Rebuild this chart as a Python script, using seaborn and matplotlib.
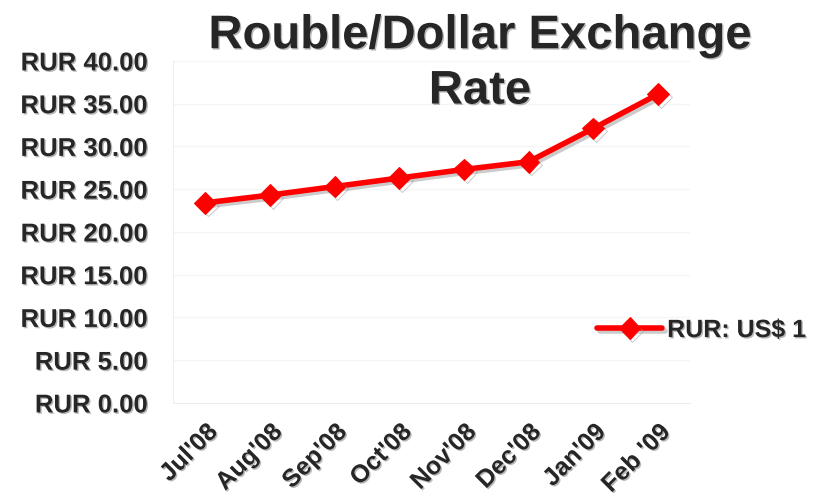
import pandas as pd
import seaborn as sns
import matplotlib.pyplot as plt
import matplotlib.patheffects as pe

# data
months = ["Jul'08", "Aug'08", "Sep'08", "Oct'08", "Nov'08", "Dec'08", "Jan'09", "Feb '09"]
rate = [23.4, 24.3, 25.3, 26.3, 27.3, 28.2, 32.1, 36.1]
yticks = [0, 5, 10, 15, 20, 25, 30, 35, 40]

df = pd.DataFrame({'Month': months, 'Rate': rate})

sns.set_style("white")
plt.rcParams['font.family'] = ['Liberation Sans', 'DejaVu Sans']

shadow = [pe.withSimplePatchShadow(offset=(1, -1), shadow_rgbFace='#888888', alpha=0.6)]
line_shadow = [pe.SimpleLineShadow(offset=(2, -2), shadow_color='#999999', alpha=0.5), pe.Normal()]

fig = plt.figure(figsize=(8.15, 5.03), dpi=100)
ax = fig.add_axes([0.212, 0.199, 0.635, 0.68])

sns.lineplot(x=range(len(months)), y='Rate', data=df, ax=ax, color='#ff0000',
             linewidth=4, marker='D', markersize=11, markeredgecolor='#ff0000',
             label='RUR: US$ 1')
for ln in ax.lines:
    ln.set_path_effects(line_shadow)

ax.set_xlim(-0.5, len(months) - 0.5)
ax.set_ylim(0, 40)
ax.set_yticks(yticks)
ax.set_yticklabels(['RUR %.2f' % v for v in yticks], fontsize=18.5, fontweight='bold')
ax.set_xticks(range(len(months)))
ax.set_xticklabels(months, rotation=45, ha='right', rotation_mode='anchor',
                   fontsize=18, fontweight='bold')
ax.set_xlabel('')
ax.set_ylabel('')
for t in ax.get_xticklabels() + ax.get_yticklabels():
    t.set_path_effects(shadow)

ax.grid(axis='y', color='#f5f5f5', linewidth=1)
for s in ['top', 'right']:
    ax.spines[s].set_visible(False)
for s in ['left', 'bottom']:
    ax.spines[s].set_color('#eeeeee')
ax.tick_params(axis='y', length=0, pad=18)
ax.tick_params(axis='x', length=0, pad=12)

leg = ax.legend(loc='center left', bbox_to_anchor=(0.82, 0.213), frameon=False,
                prop={'size': 18, 'weight': 'bold'}, handlelength=2.6,
                handletextpad=0.2, borderaxespad=0, borderpad=0)
for t in leg.get_texts():
    t.set_path_effects(shadow)

fig.text(0.589, 0.928, 'Rouble/Dollar Exchange', ha='center', va='center',
         fontsize=34, fontweight='bold', path_effects=shadow)
fig.text(0.589, 0.818, 'Rate', ha='center', va='center',
         fontsize=34, fontweight='bold', path_effects=shadow)

plt.savefig('out.png', dpi=100)
